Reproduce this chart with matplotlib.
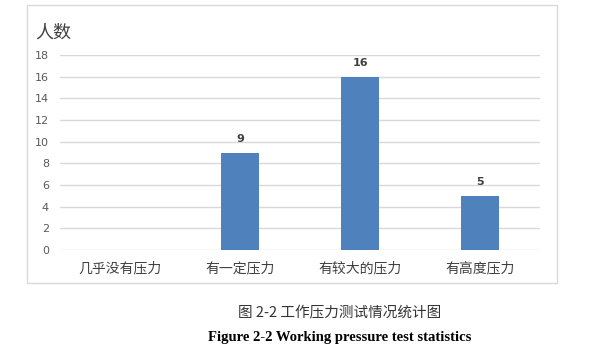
import matplotlib.pyplot as plt
from matplotlib.patches import Rectangle

plt.rcParams["font.family"] = ["Noto Sans CJK SC", "DejaVu Sans"]

categories = ["几乎没有压力", "有一定压力", "有较大的压力", "有高度压力"]
counts = [0, 9, 16, 5]
y_ticks = [0, 2, 4, 6, 8, 10, 12, 14, 16, 18]

fig = plt.figure(figsize=(5.89, 3.63), dpi=100)

# chart frame
fig.patches.append(Rectangle((0.046, 0.220), 0.900, 0.766, transform=fig.transFigure,
                             fill=False, ec="#d9d9d9", lw=1.0))

ax = fig.add_axes([0.102, 0.311, 0.815, 0.537])
x = range(len(categories))
bars = ax.bar(x, counts, width=0.32, color="#4f81bd", zorder=3)
for xi, v in zip(x, counts):
    if v > 0:
        ax.text(xi, v + 0.8, str(v), ha="center", va="bottom", fontsize=8,
                fontweight="bold", color="#404040", family=["DejaVu Sans"])

ax.set_xlim(-0.5, len(categories) - 0.5)
ax.set_ylim(0, 18)
ax.set_yticks(y_ticks)
ax.set_yticklabels([str(t) for t in y_ticks], fontsize=8, color="#595959",
                   family=["DejaVu Sans"])
ax.set_xticks(list(x))
ax.set_xticklabels(categories, fontsize=10, color="#404040")
ax.tick_params(length=0)
ax.tick_params(axis="y", pad=8)
ax.tick_params(axis="x", pad=8)
ax.grid(axis="y", color="#d9d9d9", lw=1.0, zorder=0)
for s in ax.spines.values():
    s.set_visible(False)

fig.text(0.059, 0.909, "人数", fontsize=13, color="#404040", ha="left", va="center")

fig.text(0.576, 0.137, "图 2-2 工作压力测试情况统计图", fontsize=10.5, color="#333333",
         ha="center", va="center")
fig.text(0.576, 0.071, "Figure 2-2 Working pressure test statistics", fontsize=10.5,
         fontweight="bold", color="black", family=["Liberation Serif"],
         ha="center", va="center")

fig.savefig("out.png", dpi=100)
